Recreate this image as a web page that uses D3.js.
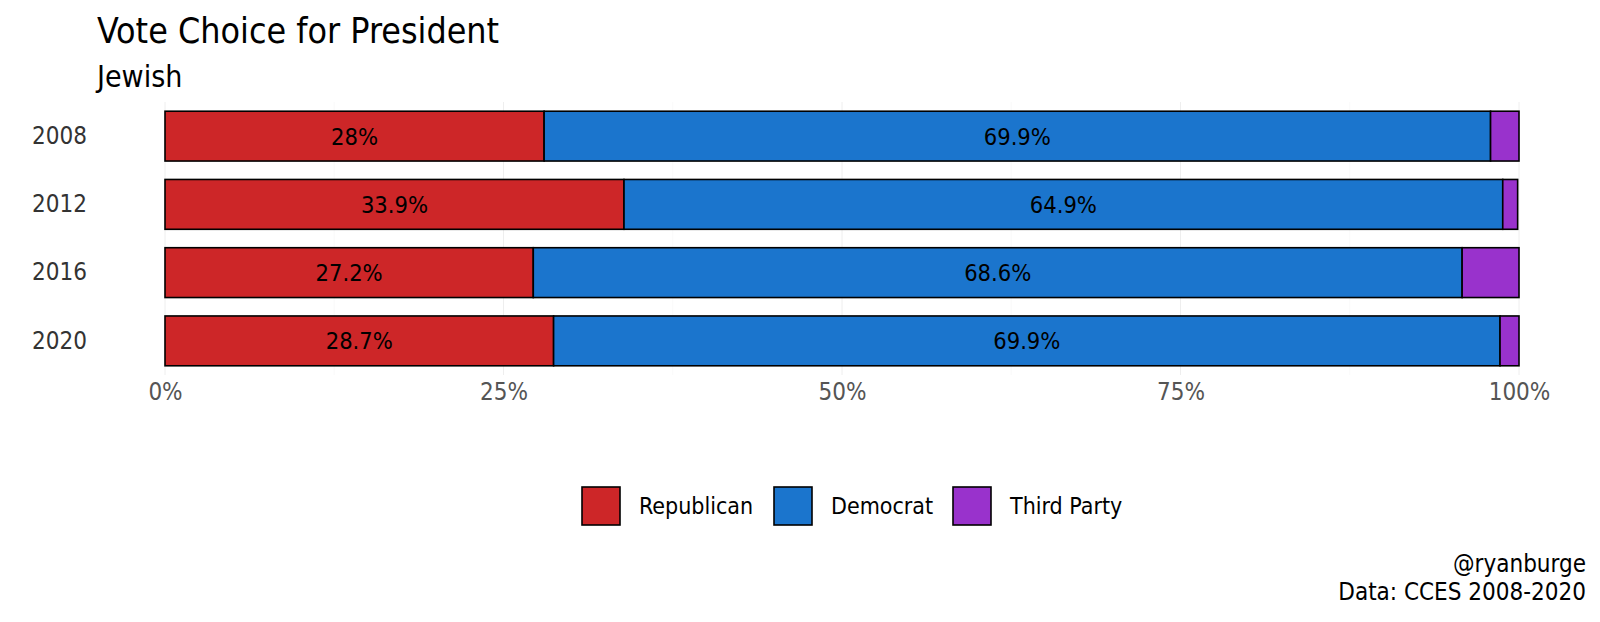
<!DOCTYPE html>
<html>
<head>
<meta charset="utf-8">
<script src="https://cdnjs.cloudflare.com/ajax/libs/d3/7.8.5/d3.min.js"></script>
<style>
  body { margin: 0; background: #fff; }
  text { font-family: "Liberation Sans Narrow", "DejaVu Sans Condensed", sans-serif; }
</style>
</head>
<body>
<div id="chart"></div>
<script>
// Chart data
var years = ["2008", "2012", "2016", "2020"];
var republican = [28.0, 33.9, 27.2, 28.7];
var democrat = [69.9, 64.9, 68.6, 69.9];
var thirdParty = [2.1, 1.1, 4.2, 1.4];
var parties = ["Republican", "Democrat", "Third Party"];
var partyColors = ["#cd2628", "#1b75cd", "#9932cc"];
var xTicks = [0, 25, 50, 75, 100];

var svgWidth = 1600;
var svgHeight = 622;

var svg = d3.select("#chart")
    .append("svg")
    .attr("width", svgWidth)
    .attr("height", svgHeight);

// Scales
var xScale = d3.scaleLinear()
    .domain([0, 100])
    .range([165, 1519]);

var yScale = d3.scaleBand()
    .domain(years)
    .range([102, 375])
    .paddingInner(0.27)
    .paddingOuter(0.135);

var colorScale = d3.scaleOrdinal()
    .domain(parties)
    .range(partyColors);

// Build stacked rows from the arrays
var rows = years.map(function(y, i) {
    return { year: y, "Republican": republican[i], "Democrat": democrat[i], "Third Party": thirdParty[i] };
});
var series = d3.stack().keys(parties)(rows);

// Grid lines (major + minor), very faint
var gridGroup = svg.append("g");
d3.range(0, 101, 12.5).forEach(function(v) {
    gridGroup.append("line")
        .attr("x1", xScale(v))
        .attr("x2", xScale(v))
        .attr("y1", 102)
        .attr("y2", 375)
        .attr("stroke", v % 25 === 0 ? "#eeeeee" : "#f6f6f6")
        .attr("stroke-width", v % 25 === 0 ? 1 : 0.6);
});

// Bars
var barGroups = svg.selectAll(".series")
    .data(series)
    .enter()
    .append("g")
    .attr("fill", d => colorScale(d.key));

barGroups.selectAll("rect")
    .data(d => d)
    .enter()
    .append("rect")
    .attr("x", d => xScale(d[0]))
    .attr("y", d => yScale(d.data.year))
    .attr("width", d => xScale(d[1]) - xScale(d[0]))
    .attr("height", yScale.bandwidth())
    .attr("stroke", "#000")
    .attr("stroke-width", 1.6);

// Value labels for Republican and Democrat
["Republican", "Democrat"].forEach(function(key) {
    var s = series.find(d => d.key === key);
    svg.append("g").selectAll("text")
        .data(s)
        .enter()
        .append("text")
        .attr("x", d => xScale((d[0] + d[1]) / 2))
        .attr("y", d => yScale(d.data.year) + yScale.bandwidth() / 2)
        .attr("dy", "0.36em")
        .attr("text-anchor", "middle")
        .attr("font-size", 23.5)
        .attr("fill", "#000")
        .text(d => (+(d[1] - d[0]).toFixed(1)) + "%");
});

// Y axis labels
var yAxis = svg.append("g")
    .attr("transform", "translate(87,0)")
    .call(d3.axisLeft(yScale).tickSize(0).tickPadding(0));
yAxis.select(".domain").remove();
yAxis.selectAll("text")
    .attr("font-size", 24)
    .attr("fill", "#333")
    .attr("font-family", null);

// X axis labels
var xAxis = svg.append("g")
    .attr("transform", "translate(0,375)")
    .call(d3.axisBottom(xScale).tickValues(xTicks).tickFormat(d => d + "%").tickSize(0).tickPadding(8));
xAxis.select(".domain").remove();
xAxis.selectAll("text")
    .attr("font-size", 24)
    .attr("fill", "#555")
    .attr("font-family", null);

// Titles
svg.append("text")
    .attr("x", 97)
    .attr("y", 43)
    .attr("font-size", 35.5)
    .attr("fill", "#000")
    .text("Vote Choice for President");

svg.append("text")
    .attr("x", 97)
    .attr("y", 87)
    .attr("font-size", 30)
    .attr("fill", "#000")
    .text("Jewish");

// Legend
var legendX = [582, 774, 953];
var legend = svg.append("g");
parties.forEach(function(p, i) {
    legend.append("rect")
        .attr("x", legendX[i])
        .attr("y", 487)
        .attr("width", 38)
        .attr("height", 38)
        .attr("fill", colorScale(p))
        .attr("stroke", "#000")
        .attr("stroke-width", 1.6);
    legend.append("text")
        .attr("x", legendX[i] + 57)
        .attr("y", 506)
        .attr("dy", "0.36em")
        .attr("font-size", 23)
        .attr("fill", "#000")
        .text(p);
});

// Caption
svg.append("text")
    .attr("x", 1586)
    .attr("y", 572)
    .attr("text-anchor", "end")
    .attr("font-size", 24)
    .attr("fill", "#000")
    .text("@ryanburge");

svg.append("text")
    .attr("x", 1586)
    .attr("y", 600)
    .attr("text-anchor", "end")
    .attr("font-size", 24)
    .attr("fill", "#000")
    .text("Data: CCES 2008-2020");
</script>
</body>
</html>
